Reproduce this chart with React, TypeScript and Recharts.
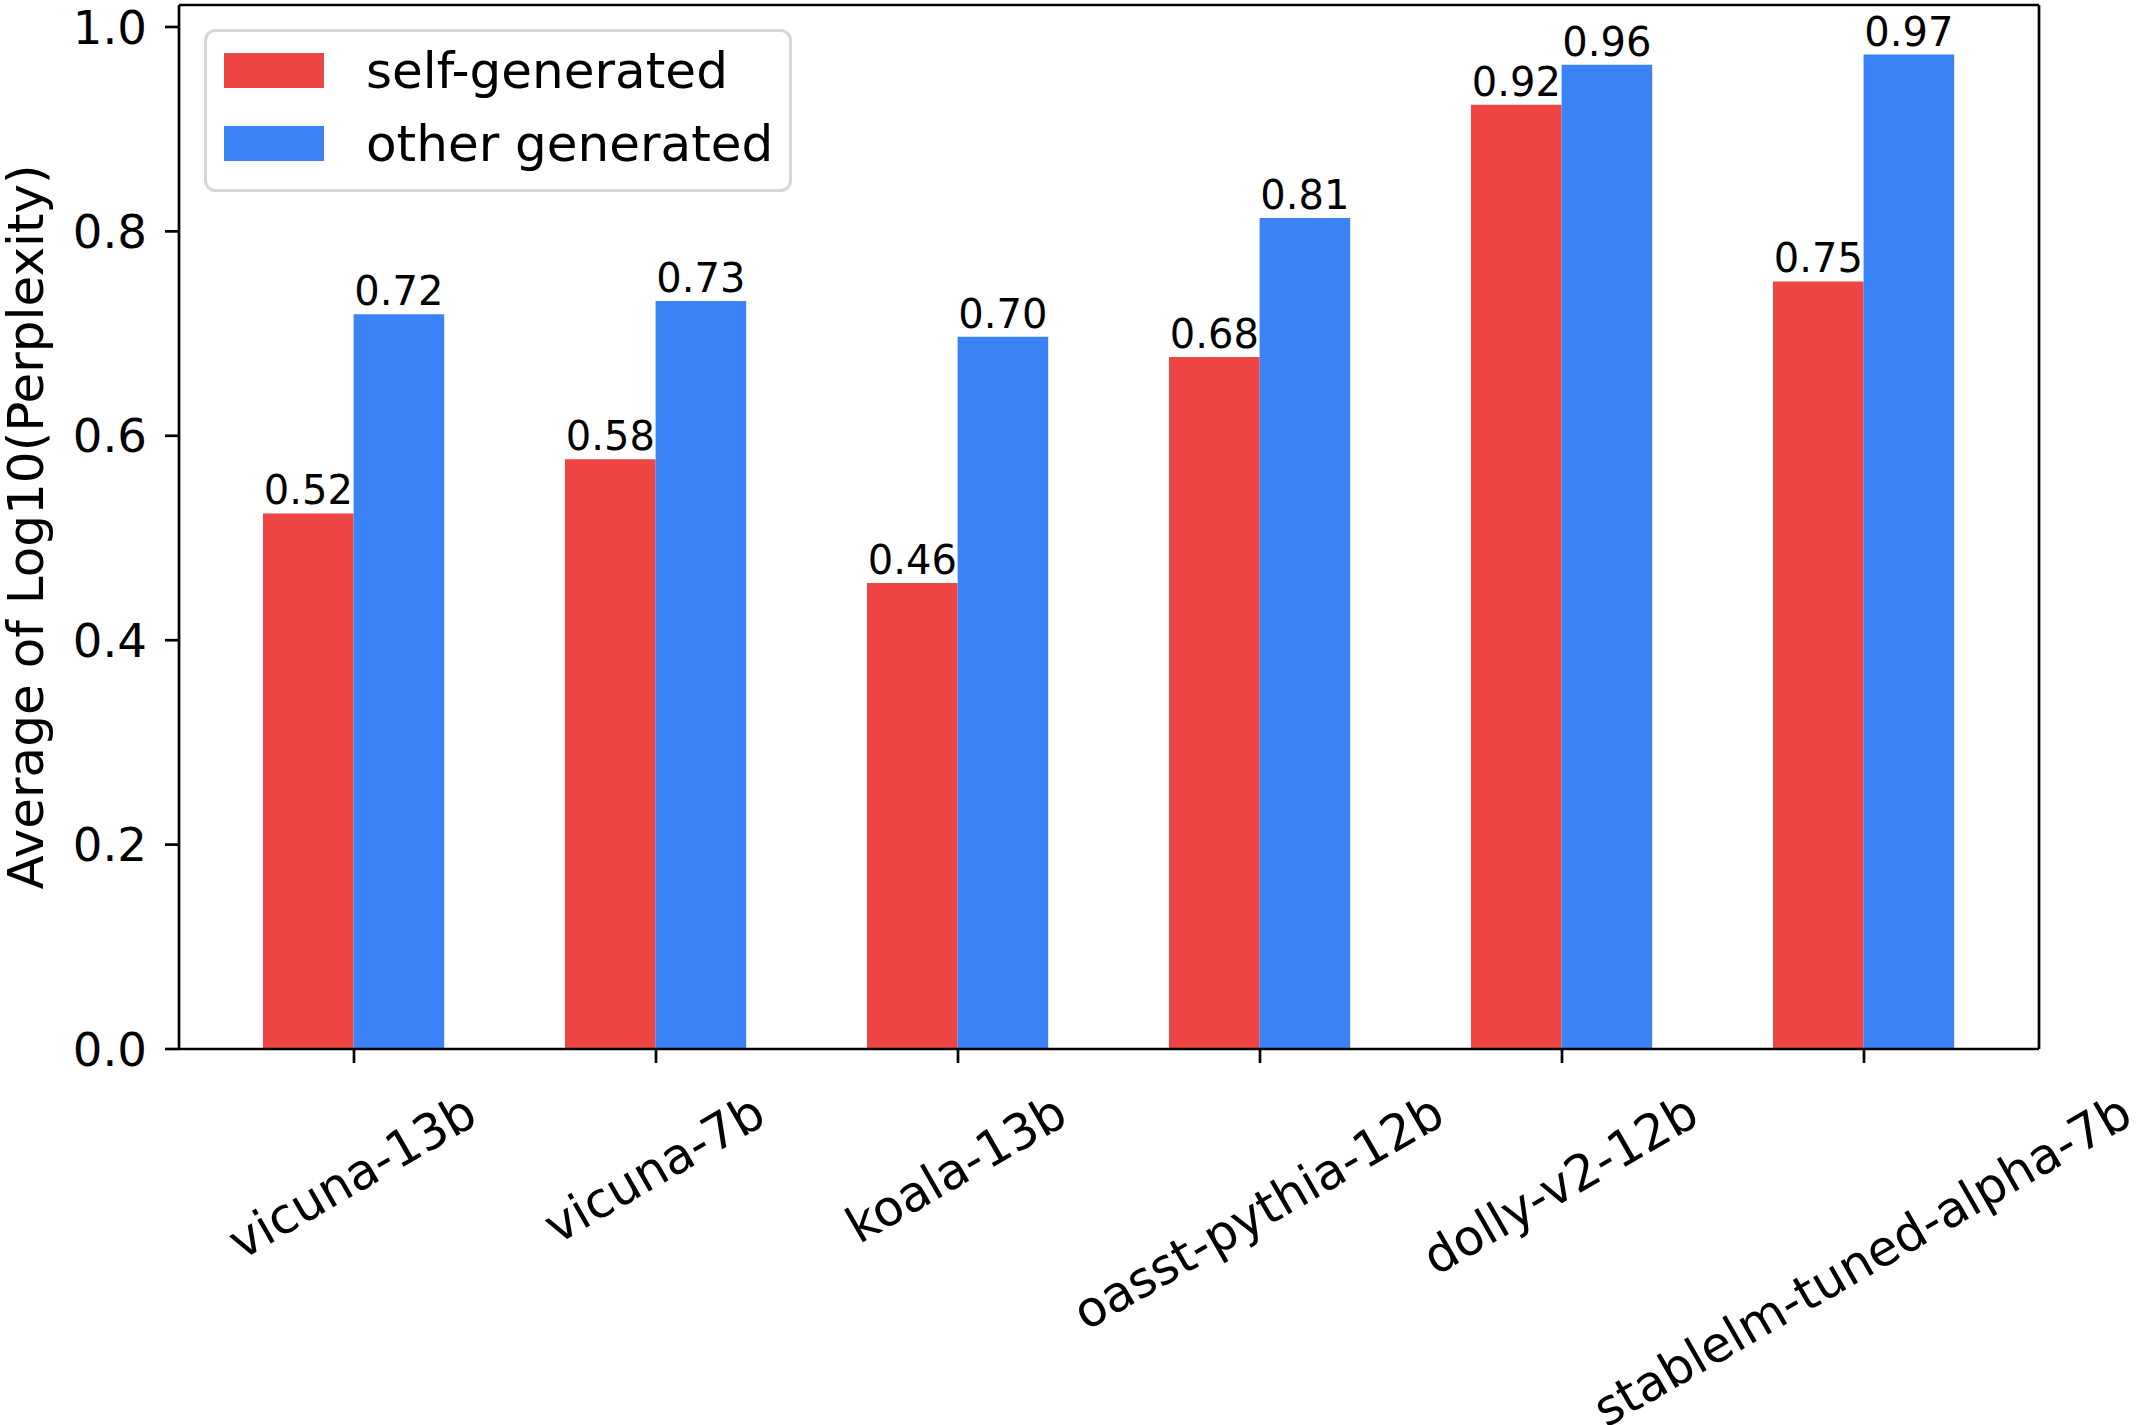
import React from 'react';
import { BarChart, Bar, XAxis, YAxis, LabelList, Legend } from 'recharts';

// values
const categories = ['vicuna-13b', 'vicuna-7b', 'koala-13b', 'oasst-pythia-12b', 'dolly-v2-12b', 'stablelm-tuned-alpha-7b'];
const seriesNames = ['self-generated', 'other generated'];
const selfGenerated = [0.524, 0.577, 0.456, 0.677, 0.924, 0.751];
const otherGenerated = [0.719, 0.732, 0.697, 0.813, 0.963, 0.973];
const yTicks = [0, 0.2, 0.4, 0.6, 0.8, 1.0];

const data = categories.map((name, i) => ({
  name,
  self: selfGenerated[i],
  other: otherGenerated[i],
}));

const FONT = '"DejaVu Sans", sans-serif';
const TICK_FS = 46.67;
const XTICK_FS = 49.5;
const LABEL_FS = 50;
const VALUE_FS = 40;
const LEGEND_FS = 50;
const RED = '#EF4444';
const BLUE = '#3B82F6';

let ctx: CanvasRenderingContext2D | null = null;
const measure = (text: string, size: number) => {
  if (!ctx) ctx = document.createElement('canvas').getContext('2d');
  if (!ctx) return text.length * size * 0.6;
  ctx.font = `${size}px "DejaVu Sans"`;
  return ctx.measureText(text).width;
};

// rotated category label, bbox centred on the tick like matplotlib
const XTick = ({ x, y, payload }: any) => {
  const w = measure(payload.value, XTICK_FS);
  const h = XTICK_FS * 0.98;
  const a = Math.PI / 6;
  const H = w * Math.sin(a) + h * Math.cos(a);
  const cx = x;
  const cy = y + H / 2;
  return (
    <text
      x={cx}
      y={cy}
      dy={0.27 * XTICK_FS}
      textAnchor="middle"
      fontSize={XTICK_FS}
      fontFamily={FONT}
      fill="#000"
      transform={`rotate(-30, ${cx}, ${cy})`}
    >
      {payload.value}
    </text>
  );
};

const YLabel = ({ viewBox }: any) => {
  const cy = viewBox.y + viewBox.height / 2;
  const bx = 43;
  return (
    <text
      x={bx}
      y={cy}
      textAnchor="middle"
      fontSize={LABEL_FS}
      fontFamily={FONT}
      fill="#000"
      transform={`rotate(-90, ${bx}, ${cy})`}
    >
      Average of Log10(Perplexity)
    </text>
  );
};

const LegendBox = ({ payload }: any) => {
  const items = [...(payload || [])].sort(
    (a: any, b: any) => seriesNames.indexOf(a.value) - seriesNames.indexOf(b.value)
  );
  return (
    <svg width={588} height={163} style={{ display: 'block' }}>
      <rect x={1.5} y={1.5} width={585} height={160} rx={10} fill="#fff" fillOpacity={0.8} stroke="#d6d6d6" strokeWidth={3} />
      {items.map((p: any, i: number) => (
        <g key={p.value}>
          <rect x={20} y={24 + i * 73} width={100} height={35} fill={p.color} />
          <text x={162} y={59 + i * 73} fontSize={LEGEND_FS} fontFamily={FONT} fill="#000">
            {p.value}
          </text>
        </g>
      ))}
    </svg>
  );
};

export default function App() {
  return (
    <div style={{ position: 'absolute', left: 0, top: 0, background: '#fff' }}>
      <BarChart
        width={2136}
        height={1425}
        data={data}
        margin={{ top: 0, right: 0, left: 0, bottom: 0 }}
        barGap={0}
        style={{ fontFamily: FONT }}
      >
        <XAxis
          dataKey="name"
          height={376}
          padding={{ left: 24, right: 24 }}
          interval={0}
          axisLine={{ stroke: '#000', strokeWidth: 2.7 }}
          tickLine={{ stroke: '#000', strokeWidth: 2.7 }}
          tickSize={14}
          tickMargin={27}
          tick={<XTick />}
        />
        <XAxis xAxisId="top" dataKey="name" orientation="top" height={5} tick={false} tickLine={false} axisLine={{ stroke: '#000', strokeWidth: 2.7 }} />
        <YAxis
          width={179}
          domain={[0, 1.0215]}
          ticks={yTicks}
          allowDataOverflow
          tickFormatter={(v: number) => v.toFixed(1)}
          axisLine={{ stroke: '#000', strokeWidth: 2.7 }}
          tickLine={{ stroke: '#000', strokeWidth: 2.7 }}
          tickSize={14}
          tickMargin={18}
          tick={{ fill: '#000', fontSize: TICK_FS, fontFamily: FONT }}
          label={<YLabel />}
        />
        <YAxis yAxisId="right" orientation="right" width={97} domain={[0, 1]} tick={false} tickLine={false} axisLine={{ stroke: '#000', strokeWidth: 2.7 }} />
        <Legend
          layout="vertical"
          align="center"
          verticalAlign="middle"
          itemSorter={null as any}
          content={<LegendBox />}
          wrapperStyle={{ left: 204, top: 29, width: 588, height: 163 }}
        />
        <Bar dataKey="self" name={seriesNames[0]} fill={RED} barSize={90.6} isAnimationActive={false}>
          <LabelList
            dataKey="self"
            position="top"
            offset={9}
            formatter={(v: any) => Number(v).toFixed(2)}
            fontSize={VALUE_FS}
            fontFamily={FONT}
            fill="#000"
          />
        </Bar>
        <Bar dataKey="other" name={seriesNames[1]} fill={BLUE} barSize={90.6} isAnimationActive={false}>
          <LabelList
            dataKey="other"
            position="top"
            offset={9}
            formatter={(v: any) => Number(v).toFixed(2)}
            fontSize={VALUE_FS}
            fontFamily={FONT}
            fill="#000"
          />
        </Bar>
      </BarChart>
    </div>
  );
}
